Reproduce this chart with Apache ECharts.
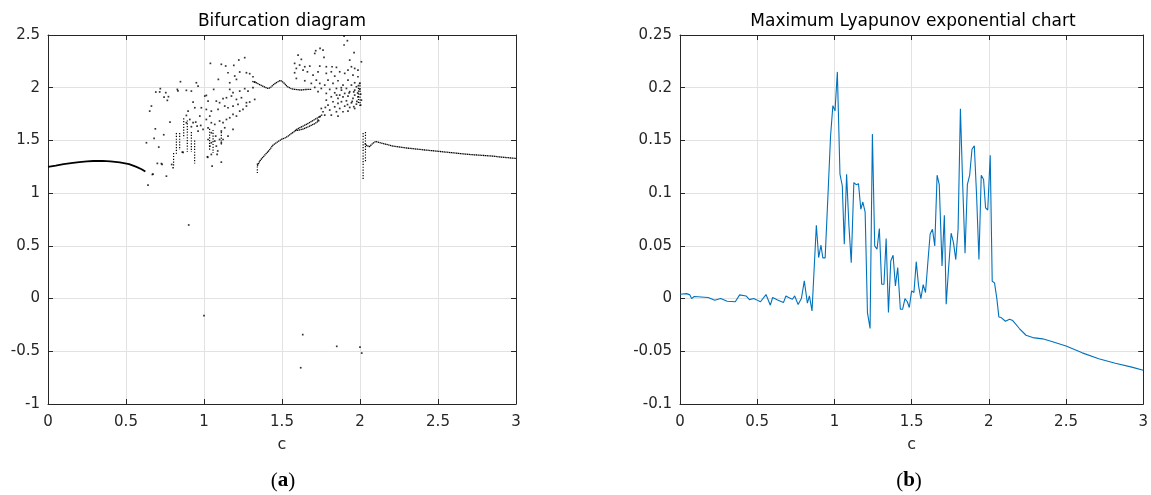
<!DOCTYPE html>
<html>
<head>
<meta charset="utf-8">
<script src="https://cdn.jsdelivr.net/npm/echarts@6/dist/echarts.min.js"></script>
<style>
  html, body { margin: 0; padding: 0; background: #fff; }
  #chart { width: 1151px; height: 495px; }
</style>
</head>
<body>
<div id="chart"></div>
<script>
// ---- Bifurcation diagram (panel a) ----
// periodic branches, [c, x]
const branchLeft = [[0,1.25],[0.05,1.262],[0.1,1.275],[0.16,1.287],[0.2,1.295],[0.25,1.301],[0.29,1.305],[0.35,1.306],[0.4,1.302],[0.46,1.291],[0.52,1.275],[0.567,1.249],[0.6,1.227],[0.624,1.205]];
const branchRising = [[1.342,1.26],[1.36,1.31],[1.389,1.36],[1.42,1.41],[1.442,1.455],[1.47,1.485],[1.496,1.51],[1.52,1.525],[1.539,1.541],[1.56,1.565],[1.577,1.582],[1.592,1.604],[1.62,1.625],[1.66,1.655],[1.70,1.69],[1.74,1.725],[1.76,1.745]];
const branchRising2 = [[1.585,1.592],[1.63,1.605],[1.67,1.63],[1.71,1.66],[1.74,1.69]];
const branchWave = [[1.31,2.06],[1.33,2.05],[1.35,2.035],[1.37,2.02],[1.39,2.005],[1.41,1.994],[1.425,2.0],[1.442,2.025],[1.46,2.045],[1.474,2.057],[1.49,2.07],[1.5,2.068],[1.517,2.04],[1.53,2.015],[1.54,2.003],[1.56,1.99],[1.58,1.985],[1.6,1.982],[1.62,1.978],[1.65,1.983],[1.69,1.985]];
const branchRight = [[2.03,1.47],[2.045,1.45],[2.06,1.44],[2.08,1.47],[2.1,1.49],[2.11,1.49],[2.15,1.47],[2.212,1.446],[2.3,1.428],[2.426,1.408],[2.5,1.397],[2.639,1.376],[2.7,1.367],[2.853,1.351],[2.9,1.343],[3.0,1.329]];

// dense vertical runs of iterates: c, upper x, lower x
const stripC      = [0.805, 0.823, 0.844, 0.870, 0.893, 0.919, 0.940, 1.036, 1.058, 1.111, 1.342, 1.990, 2.000, 2.020, 2.035];
const stripTop    = [1.38,  1.57,  1.57,  1.71,  1.69,  1.58,  1.50,  1.61,  1.60,  1.58,  1.28,  2.00,  2.05,  1.57,  1.58];
const stripBottom = [1.25,  1.36,  1.41,  1.52,  1.39,  1.39,  1.28,  1.41,  1.38,  1.46,  1.19,  1.84,  1.82,  1.12,  1.30];

// scattered iterates in the chaotic windows, [c, x]
const cloudLow = [
  [1.261,2.285],[1.223,2.263],[1.191,2.212],[1.041,2.231],[1.111,2.222],[1.139,2.206],[1.229,2.149],[1.272,2.142],[1.293,2.133],[1.314,2.104],[1.325,2.054],
  [1.092,2.079],[0.849,2.057],[0.951,2.047],[0.962,2.016],[1.165,2.047],[1.197,2.111],[1.208,2.079],[1.154,2.142],
  [0.691,1.959],[0.72,1.991],[0.755,1.953],[0.772,1.915],[0.829,1.984],[0.919,1.968],[1.015,1.927],[1.062,1.984],[1.165,1.984],[1.186,1.953],[1.229,1.968],[1.261,1.991],[1.282,1.968],[1.314,2.0],
  [0.652,1.778],[0.663,1.826],[0.887,1.737],[0.93,1.864],[0.973,1.731],[1.005,1.921],[1.026,1.873],[1.079,1.873],[1.1,1.858],[1.122,1.896],[1.144,1.905],[1.176,1.921],[1.208,1.889],[1.24,1.905],[1.272,1.858],[1.293,1.864],[1.325,1.889],
  [0.941,1.81],[0.983,1.81],[1.015,1.794],[1.047,1.778],[1.09,1.794],[1.133,1.826],[1.154,1.81],[1.186,1.826],[1.218,1.842],[1.25,1.794],[1.272,1.826],[1.229,1.778],
  [0.782,1.674],[0.898,1.778],[0.909,1.699],[0.93,1.668],[0.947,1.674],[0.956,1.636],[0.979,1.642],[1.015,1.699],[1.037,1.731],[1.047,1.668],[1.069,1.652],[1.1,1.684],[1.122,1.668],[1.144,1.699],[1.165,1.715],[1.186,1.747],[1.208,1.731],
  [0.887,1.668],[0.919,1.63],[0.962,1.589],[0.994,1.604],[1.026,1.62],[1.047,1.573],[1.075,1.541],[1.111,1.589],[1.122,1.509],[1.154,1.541],[1.186,1.604],[1.1,1.509],
  [0.742,1.554],[0.68,1.519],[0.631,1.478],[0.71,1.437],[1.026,1.509],[1.047,1.478],[1.069,1.494],[1.037,1.446],[1.079,1.446],[1.111,1.478],[1.133,1.62],
  [0.701,1.282],[0.731,1.272],[0.793,1.272],[0.802,1.241],[0.759,1.161],[0.669,1.177],[0.641,1.076],[0.673,1.18],[0.727,1.28],[0.688,1.61],[0.716,1.96],[0.765,1.88],[0.744,1.91],[0.833,1.97],[0.887,1.975],
  [1.022,1.345],[1.052,1.256],[1.111,1.294],[1.084,1.367],[0.861,1.389],[1.047,1.367],[1.088,1.40],[0.866,1.386],[1.024,1.34]
];
const cloudHigh = [
  [1.898,2.49],[1.919,2.446],[1.898,2.405],[1.716,2.351],[1.744,2.373],[1.962,2.332],[1.603,2.31],[1.769,2.288],[1.624,2.269],[1.934,2.262],[2.009,2.246],[1.71,2.325],[1.763,2.357],
  [1.581,2.231],[1.592,2.183],[1.635,2.167],[1.663,2.151],[1.678,2.205],[1.742,2.205],[1.784,2.199],[1.821,2.199],[1.849,2.193],[1.945,2.199],[1.966,2.183],[1.581,2.142],[1.699,2.12],[1.784,2.136],[1.838,2.11],[1.902,2.136],[1.955,2.12],[1.987,2.104],[1.613,2.215],[1.646,2.199],[1.87,2.151],[1.923,2.167],[1.987,2.167],[1.816,2.151],[1.731,2.151],
  [1.592,2.088],[1.646,2.066],[1.72,2.072],[1.795,2.072],[1.859,2.066],[1.923,2.072],[1.966,2.047],[1.998,2.041],[1.688,2.041],[1.742,2.041],[1.774,2.025],[1.827,2.041],[1.891,2.025],[1.945,2.025],[1.977,2.009],
  [1.71,2.003],[1.752,1.993],[1.806,1.984],[1.849,1.993],[1.881,1.977],[1.913,1.993],[1.966,1.977],[1.998,1.984],[1.731,1.962],[1.784,1.946],[1.838,1.952],[1.87,1.93],[1.902,1.946],[1.934,1.962],[1.966,1.93],[2.004,1.939],
  [1.816,1.914],[1.859,1.898],[1.891,1.914],[1.923,1.92],[1.955,1.898],[1.987,1.914],[2.009,1.882],
  [1.784,1.882],[1.827,1.867],[1.859,1.851],[1.881,1.867],[1.913,1.876],[1.945,1.857],[1.977,1.844],[2.004,1.835],[1.795,1.835],[1.838,1.819],[1.87,1.803],[1.902,1.825],[1.934,1.813],[1.966,1.803],
  [1.806,1.788],[1.849,1.772],[1.891,1.772],[1.923,1.778],[1.763,1.772],[1.774,1.74],[1.742,1.724],[1.816,1.74],[1.859,1.731],[1.731,1.693],[1.752,1.803],[1.778,1.813],
  [1.93,1.95],[1.96,1.96],[1.985,1.95],[1.95,1.87],[1.98,1.87],[1.99,2.02],[1.88,2.0],[1.92,1.84],[1.96,1.82],[1.85,1.93]
];
const outliers = [[0.902,0.698],[1.0,-0.162],[1.633,-0.342],[1.62,-0.656],[1.851,-0.453],[2.0,-0.46],[2.011,-0.517]];

// ---- Maximum Lyapunov exponent (panel b) ----
const lyapC = [0,0.043,0.064,0.075,0.092,0.182,0.225,0.263,0.306,0.358,0.386,0.428,0.45,0.478,0.493,0.521,0.557,0.585,0.6,0.632,0.67,0.686,0.703,0.728,0.743,0.765,0.786,0.805,0.825,0.838,0.855,0.883,0.898,0.913,0.925,0.94,0.958,0.975,0.99,1.004,1.019,1.036,1.051,1.064,1.079,1.094,1.109,1.126,1.141,1.156,1.171,1.184,1.199,1.214,1.231,1.246,1.261,1.276,1.291,1.306,1.321,1.335,1.35,1.365,1.38,1.395,1.41,1.427,1.442,1.457,1.472,1.485,1.5,1.515,1.53,1.545,1.56,1.575,1.59,1.605,1.62,1.635,1.65,1.665,1.679,1.697,1.712,1.724,1.739,1.756,1.771,1.786,1.801,1.816,1.831,1.846,1.861,1.876,1.891,1.906,1.921,1.936,1.951,1.966,1.979,1.993,2.009,2.022,2.037,2.052,2.065,2.08,2.108,2.134,2.155,2.198,2.241,2.284,2.348,2.413,2.5,2.605,2.712,2.819,2.926,3.0];
const lyapV = [0.0041,0.0047,0.0035,0.0,0.002,0.001,-0.0016,0.0,-0.0025,-0.003,0.0035,0.0025,-0.001,0.0,-0.001,-0.003,0.0038,-0.0063,0.001,-0.0013,-0.0038,0.0025,0.001,-0.0006,0.0025,-0.0057,0.0,0.0168,-0.0044,0.0025,-0.0117,0.0695,0.0389,0.0506,0.0386,0.0386,0.0973,0.154,0.183,0.178,0.215,0.118,0.107,0.0515,0.118,0.069,0.034,0.11,0.108,0.109,0.0847,0.0916,0.082,-0.0133,-0.0284,0.156,0.05,0.0468,0.0664,0.0136,0.0136,0.0569,-0.0133,0.0357,0.0411,0.012,0.0294,-0.0101,-0.0101,0.0,-0.003,-0.0085,0.0073,0.0057,0.035,0.012,0.0,0.0133,0.0057,0.034,0.0613,0.0657,0.05,0.117,0.108,0.031,0.079,-0.0054,0.0278,0.062,0.053,0.037,0.0657,0.18,0.107,0.043,0.108,0.117,0.1416,0.145,0.097,0.037,0.117,0.113,0.086,0.084,0.136,0.0164,0.0149,0.0,-0.0174,-0.018,-0.0215,-0.0196,-0.0209,-0.0284,-0.0348,-0.037,-0.0382,-0.041,-0.045,-0.0515,-0.057,-0.0613,-0.065,-0.068];

const FONT = 'DejaVu Sans';
const AXIS_COLOR = '#262626';
const GRID_COLOR = '#e2e2e2';

const fmt = v => String(+v.toFixed(2));

function xAxisPair(grid) {
  const base = {
    gridIndex: grid, type: 'value', min: 0, max: 3, interval: 0.5,
    axisLine: { onZero: false, lineStyle: { color: AXIS_COLOR, width: 1 } },
    axisTick: { inside: true, length: 5, lineStyle: { color: AXIS_COLOR } }
  };
  return [
    Object.assign({}, base, {
      position: 'bottom',
      splitLine: { show: true, lineStyle: { color: GRID_COLOR, width: 1 } },
      axisLabel: { fontFamily: FONT, fontSize: 15, color: AXIS_COLOR, margin: 11, formatter: fmt },
      name: 'c', nameLocation: 'middle', nameGap: 33,
      nameTextStyle: { fontFamily: FONT, fontSize: 16, color: AXIS_COLOR }
    }),
    Object.assign({}, base, {
      position: 'top', splitLine: { show: false }, axisLabel: { show: false }
    })
  ];
}

function yAxisPair(grid, min, max, interval) {
  const base = {
    gridIndex: grid, type: 'value', min: min, max: max, interval: interval,
    axisLine: { show: true, onZero: false, lineStyle: { color: AXIS_COLOR, width: 1 } },
    axisTick: { show: true, inside: true, length: 5, lineStyle: { color: AXIS_COLOR } }
  };
  return [
    Object.assign({}, base, {
      position: 'left',
      splitLine: { show: true, lineStyle: { color: GRID_COLOR, width: 1 } },
      axisLabel: { fontFamily: FONT, fontSize: 15, color: AXIS_COLOR, margin: 8, formatter: fmt }
    }),
    Object.assign({}, base, {
      position: 'right', splitLine: { show: false }, axisLabel: { show: false }
    })
  ];
}

const series = [];

// smooth periodic branches
[branchLeft, branchRising, branchRising2, branchWave, branchRight].forEach((b, i) => {
  series.push({
    type: 'line', xAxisIndex: 0, yAxisIndex: 0, data: b,
    symbol: 'none', silent: true,
    lineStyle: { color: '#000', width: i === 0 ? 1.8 : 1.3, type: i === 0 ? 'solid' : [1.3, 0.5] }
  });
});

// vertical runs of iterates drawn as dotted segments
stripC.forEach((c, i) => {
  series.push({
    type: 'line', xAxisIndex: 0, yAxisIndex: 0,
    data: [[c, stripTop[i]], [c, stripBottom[i]]],
    symbol: 'none', silent: true,
    lineStyle: { color: '#000', width: 1.2, type: [1.2, 1.6] }
  });
});

// scattered chaotic iterates
[cloudLow, cloudHigh, outliers].forEach(pts => {
  series.push({
    type: 'scatter', xAxisIndex: 0, yAxisIndex: 0, data: pts,
    symbol: 'rect', symbolSize: 1.7, silent: true,
    itemStyle: { color: '#000' }
  });
});

// Lyapunov exponent curve
series.push({
  type: 'line', xAxisIndex: 2, yAxisIndex: 2,
  data: lyapC.map((c, i) => [c, lyapV[i]]),
  symbol: 'none', silent: true,
  lineStyle: { color: '#0072BD', width: 1.1 }
});

const option = {
  animation: false,
  backgroundColor: '#fff',
  grid: [
    { left: 48, top: 35, width: 468, height: 369 },
    { left: 680, top: 35, width: 467, height: 369 }
  ],
  xAxis: [...xAxisPair(0), ...xAxisPair(1)],
  yAxis: [...yAxisPair(0, -1, 2.5, 0.5), ...yAxisPair(1, -0.1, 0.25, 0.05)],
  series: series,
  graphic: [
    { type: 'text', x: 282, y: 22, silent: true,
      style: { text: 'Bifurcation diagram', font: '17px "DejaVu Sans"', fill: '#000', textAlign: 'center', textVerticalAlign: 'middle' } },
    { type: 'text', x: 913, y: 22, silent: true,
      style: { text: 'Maximum Lyapunov exponential chart', font: '17px "DejaVu Sans"', fill: '#000', textAlign: 'center', textVerticalAlign: 'middle' } },
    { type: 'text', x: 283, y: 481, silent: true,
      style: { text: '{n|(}{b|a}{n|)}', textAlign: 'center', textVerticalAlign: 'middle',
        rich: { n: { fontFamily: 'Liberation Serif', fontSize: 21, fill: '#000' },
                b: { fontFamily: 'Liberation Serif', fontSize: 21, fontWeight: 'bold', fill: '#000' } } } },
    { type: 'text', x: 909, y: 481, silent: true,
      style: { text: '{n|(}{b|b}{n|)}', textAlign: 'center', textVerticalAlign: 'middle',
        rich: { n: { fontFamily: 'Liberation Serif', fontSize: 21, fill: '#000' },
                b: { fontFamily: 'Liberation Serif', fontSize: 21, fontWeight: 'bold', fill: '#000' } } } }
  ]
};

const chart = echarts.init(document.getElementById('chart'), null, { renderer: 'canvas' });
chart.setOption(option);
</script>
</body>
</html>
